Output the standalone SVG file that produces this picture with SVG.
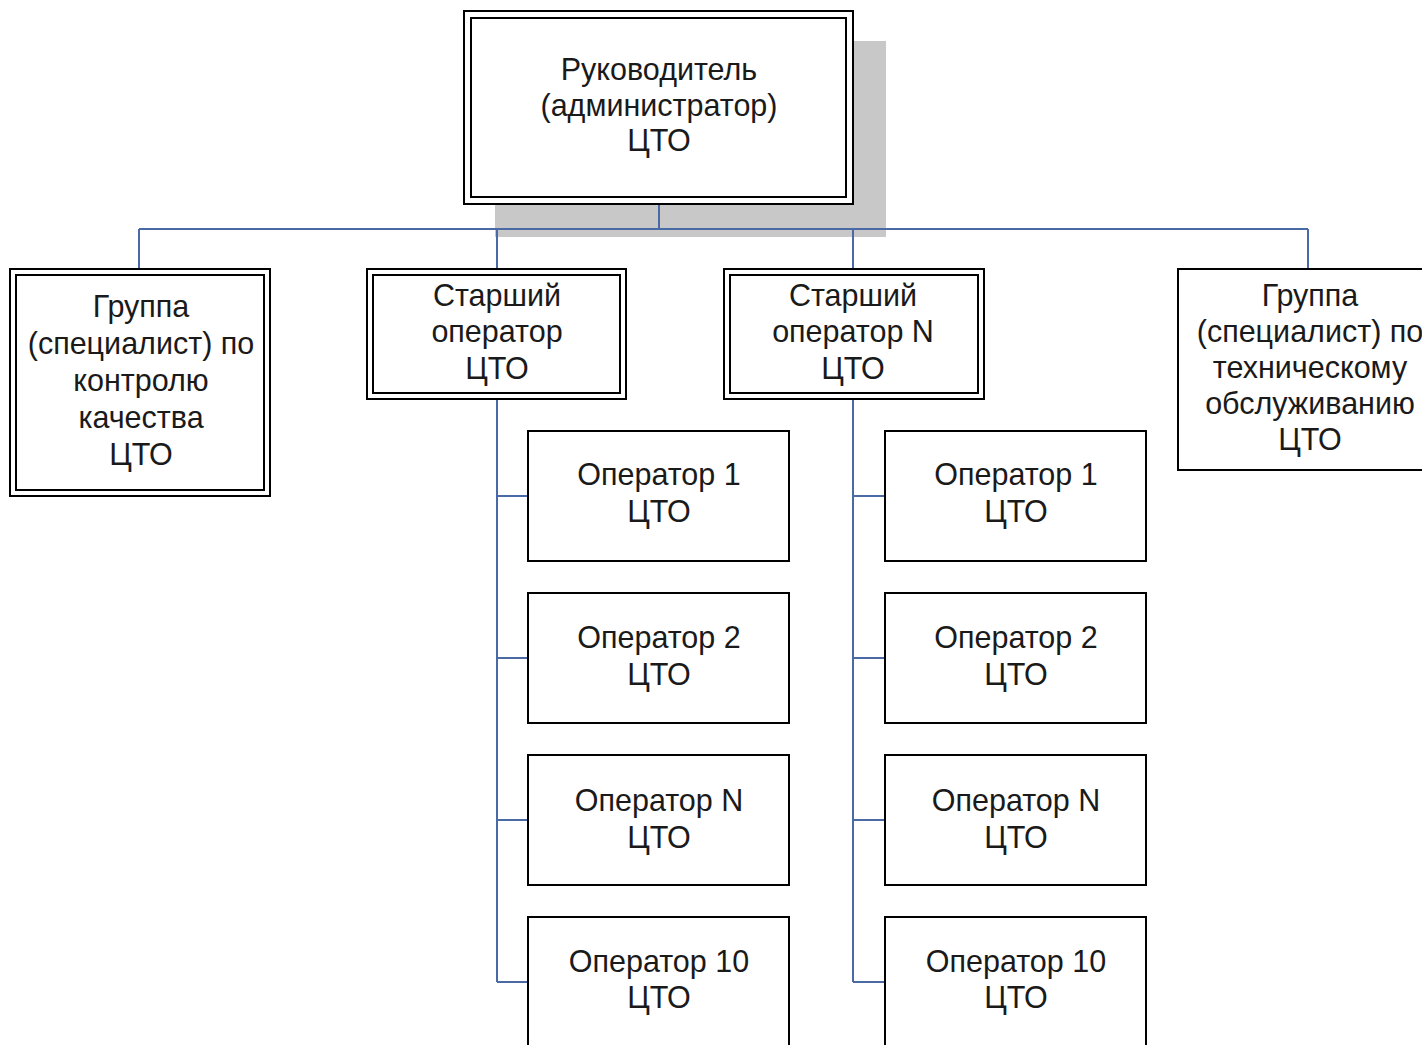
<svg xmlns="http://www.w3.org/2000/svg" width="1422" height="1045" viewBox="0 0 1422 1045">
<style>
.bx{fill:#fff;stroke:#000;stroke-width:2}
.in{fill:none;stroke:#000;stroke-width:2}
.c{fill:none;stroke:#4a6aa5;stroke-width:2}
text{font-family:"Liberation Sans",Arial,sans-serif;font-size:30.5px;fill:#1a1a1a;text-anchor:middle}
</style>
<rect x="0" y="0" width="1422" height="1045" fill="#fff"/>
<rect id="head-shadow" x="495" y="41" width="391" height="196" fill="#c8c8c8"/>
<g id="connectors">
<path class="c" d="M659 204V229M139 229H1308M139 229V269M497 229V269M853 229V269M1308 229V269"/>
<path class="c" d="M497 399V982M497 496H528M497 658H528M497 820H528M497 982H528"/>
<path class="c" d="M853 399V982M853 496H885M853 658H885M853 820H885M853 982H885"/>
</g>
<g id="head">
<rect class="bx" x="464" y="11" width="389" height="193"/>
<rect class="in" x="471" y="18" width="375" height="179"/>
<text x="659" y="80">Руководитель</text>
<text x="659" y="116">(администратор)</text>
<text x="659" y="151">ЦТО</text>
</g>
<g id="qc">
<rect class="bx" x="10" y="269" width="260" height="227"/>
<rect class="in" x="16" y="275" width="248" height="215"/>
<text x="141" y="317">Группа</text>
<text x="141" y="354">(специалист) по</text>
<text x="141" y="391">контролю</text>
<text x="141" y="428">качества</text>
<text x="141" y="465">ЦТО</text>
</g>
<g id="senior1">
<rect class="bx" x="367" y="269" width="259" height="130"/>
<rect class="in" x="373" y="275" width="247" height="118"/>
<text x="497" y="306">Старший</text>
<text x="497" y="342">оператор</text>
<text x="497" y="379">ЦТО</text>
</g>
<g id="senior2">
<rect class="bx" x="724" y="269" width="260" height="130"/>
<rect class="in" x="730" y="275" width="248" height="118"/>
<text x="853" y="306">Старший</text>
<text x="853" y="342">оператор N</text>
<text x="853" y="379">ЦТО</text>
</g>
<g id="tech">
<rect class="bx" x="1178" y="269" width="260" height="201"/>
<text x="1310" y="306">Группа</text>
<text x="1310" y="342">(специалист) по</text>
<text x="1310" y="378">техническому</text>
<text x="1310" y="414">обслуживанию</text>
<text x="1310" y="450">ЦТО</text>
</g>
<g id="op1a"><rect class="bx" x="528" y="431" width="261" height="130"/><text x="659" y="485">Оператор 1</text><text x="659" y="522">ЦТО</text></g>
<g id="op2a"><rect class="bx" x="528" y="593" width="261" height="130"/><text x="659" y="648">Оператор 2</text><text x="659" y="685">ЦТО</text></g>
<g id="opNa"><rect class="bx" x="528" y="755" width="261" height="130"/><text x="659" y="811">Оператор N</text><text x="659" y="848">ЦТО</text></g>
<g id="op10a"><rect class="bx" x="528" y="917" width="261" height="140"/><text x="659" y="972">Оператор 10</text><text x="659" y="1008">ЦТО</text></g>
<g id="op1b"><rect class="bx" x="885" y="431" width="261" height="130"/><text x="1016" y="485">Оператор 1</text><text x="1016" y="522">ЦТО</text></g>
<g id="op2b"><rect class="bx" x="885" y="593" width="261" height="130"/><text x="1016" y="648">Оператор 2</text><text x="1016" y="685">ЦТО</text></g>
<g id="opNb"><rect class="bx" x="885" y="755" width="261" height="130"/><text x="1016" y="811">Оператор N</text><text x="1016" y="848">ЦТО</text></g>
<g id="op10b"><rect class="bx" x="885" y="917" width="261" height="140"/><text x="1016" y="972">Оператор 10</text><text x="1016" y="1008">ЦТО</text></g>
</svg>
